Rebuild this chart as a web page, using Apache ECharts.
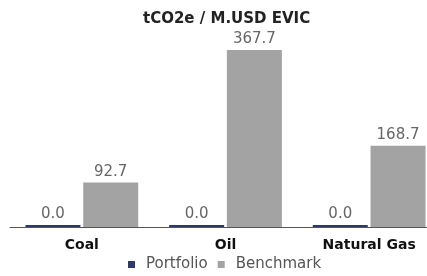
<!DOCTYPE html>
<html><head><meta charset="utf-8">
<script src="https://cdn.jsdelivr.net/npm/echarts@6/dist/echarts.min.js"></script>
<style>html,body{margin:0;padding:0;background:#fff;overflow:hidden;width:427px;height:276px}#c{width:441px;height:276px}</style>
</head><body><div id="c"></div>
<script>
const categories = ['Coal', 'Oil', 'Natural Gas'];
const portfolio = [0.0, 0.0, 0.0];
const benchmark = [92.7, 367.7, 168.7];
const titleText = 'tCO2e / M.USD EVIC';

const chart = echarts.init(document.getElementById('c'), null, {renderer: 'canvas'});
const lbl = {show: true, position: 'top', color: '#666', fontSize: 15, fontFamily: 'DejaVu Sans', distance: 3, formatter: p => p.value.toFixed(1)};
chart.setOption({
  animation: false,
  title: {text: titleText, left: 138, top: 7, textStyle: {fontSize: 15, fontWeight: 'bold', color: '#222', fontFamily: 'DejaVu Sans'}},
  legend: {top: 252, left: 123, itemWidth: 7, itemHeight: 7, itemGap: 10, icon: 'rect',
    textStyle: {fontSize: 15, color: '#555', fontFamily: 'DejaVu Sans', padding: [0, 0, 0, 6]}, data: ['Portfolio', 'Benchmark']},
  grid: {left: 10, right: 0, top: 50, bottom: 49, containLabel: false},
  xAxis: {type: 'category', data: categories,
    axisLine: {lineStyle: {color: '#555', width: 1}}, axisTick: {show: false},
    axisLabel: {color: '#111', fontWeight: 'bold', fontSize: 14, fontFamily: 'DejaVu Sans', margin: 11}},
  yAxis: {type: 'value', min: 0, max: 'dataMax', show: false, splitLine: {show: false}},
  series: [
    {name: 'Portfolio', type: 'bar', data: portfolio, barWidth: 55, barGap: '5%', barMinHeight: 2,
     itemStyle: {color: '#2f3a6b'}, label: lbl},
    {name: 'Benchmark', type: 'bar', data: benchmark, barWidth: 55,
     itemStyle: {color: '#a3a3a3'}, label: lbl}
  ]
});
</script></body></html>
